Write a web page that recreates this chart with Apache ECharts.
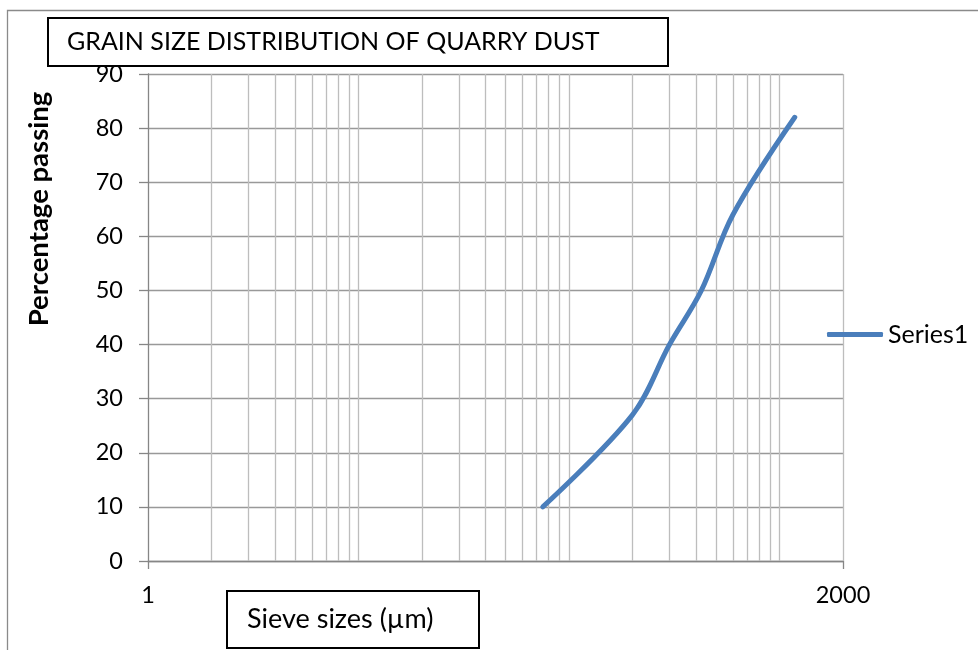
<!DOCTYPE html>
<html>
<head>
<meta charset="utf-8">
<script src="https://cdn.jsdelivr.net/npm/echarts@6/dist/echarts.min.js"></script>
<style>
  html, body { margin: 0; padding: 0; background: #fff; }
  #chart { width: 978px; height: 650px; }
</style>
</head>
<body>
<div id="chart"></div>
<script>
// sieve data
var sieveSizes = [75, 200, 300, 425, 600, 1180];
var passing = [10, 27, 40, 50, 64, 82];
// log gridlines (2..9 of every decade) and the two labelled ticks
var gridSizes = [2, 3, 4, 5, 6, 7, 8, 9, 10, 20, 30, 40, 50, 60, 70, 80, 90,
  100, 200, 300, 400, 500, 600, 700, 800, 900, 1000, 2000];
var xTickLabels = [1, 2000];

var FONT = 'Lato, "Open Sans", sans-serif';
var chart = echarts.init(document.getElementById('chart'), null, { renderer: 'canvas' });

var option = {
  animation: false,
  backgroundColor: '#ffffff',
  grid: { left: 148, top: 74, width: 695, height: 487 },
  legend: {
    data: [{ name: 'Series1', icon: 'roundRect' }],
    left: 822,
    top: 317,
    itemWidth: 56,
    itemHeight: 5,
    textStyle: { fontFamily: FONT, fontSize: 25, color: '#000', lineHeight: 24 }
  },
  xAxis: {
    type: 'log',
    logBase: 10,
    min: 1,
    max: 2000,
    axisLine: { show: true, lineStyle: { color: '#868686', width: 1.3 } },
    axisTick: { show: true, length: 8, customValues: xTickLabels, lineStyle: { color: '#868686', width: 1.3 } },
    axisLabel: {
      customValues: xTickLabels,
      fontFamily: FONT, fontSize: 23.5, color: '#000', margin: 22,
      formatter: function (v) { return String(Math.round(v)); }
    },
    splitLine: { show: false }
  },
  yAxis: {
    type: 'value',
    min: 0,
    max: 90,
    interval: 10,
    axisLine: { show: true, lineStyle: { color: '#868686', width: 1.3 } },
    axisTick: { show: true, length: 9, lineStyle: { color: '#868686', width: 1.3 } },
    axisLabel: { fontFamily: FONT, fontSize: 23.5, color: '#000', margin: 25 },
    splitLine: { show: true, lineStyle: { color: '#999999', width: 1.3 } }
  },
  series: [
    {
      // carries only the vertical log gridlines
      name: 'grid',
      type: 'line',
      data: [],
      silent: true,
      markLine: {
        z: 1,
        silent: true,
        symbol: ['none', 'none'],
        label: { show: false },
        lineStyle: { color: '#bdbdbd', width: 1.3, type: 'solid' },
        emphasis: { disabled: true },
        data: gridSizes.map(function (v) { return { xAxis: v }; })
      }
    },
    {
      name: 'Series1',
      type: 'line',
      z: 3,
      smooth: 0.35,
      symbol: 'none',
      lineStyle: { color: '#4a7ebb', width: 5, cap: 'round', join: 'round' },
      itemStyle: { color: '#4a7ebb' },
      data: sieveSizes.map(function (s, i) { return [s, passing[i]]; })
    }
  ],
  graphic: [
    // outer chart border
    { type: 'rect', left: 5, top: 8, shape: { width: 1000, height: 700 },
      style: { fill: 'none', stroke: '#8a8a8a', lineWidth: 1.3 }, silent: true },
    // title box
    { type: 'rect', left: 47, top: 17, shape: { width: 620, height: 48 },
      style: { fill: '#fff', stroke: '#000', lineWidth: 2 }, z: 10 },
    { type: 'text', left: 67, top: 29, z: 11,
      style: { text: 'GRAIN SIZE DISTRIBUTION OF QUARRY DUST', font: '25px ' + FONT, fill: '#000' } },
    // y axis title
    { type: 'text', x: 39, y: 209, rotation: Math.PI / 2, z: 11,
      style: { text: 'Percentage passing', font: 'bold 27.5px ' + FONT, fill: '#000',
        align: 'center', verticalAlign: 'middle' } },
    // x axis title box
    { type: 'rect', left: 226, top: 590, shape: { width: 252, height: 57 },
      style: { fill: '#fff', stroke: '#000', lineWidth: 2 }, z: 10 },
    { type: 'text', left: 247, top: 606, z: 11,
      style: { text: 'Sieve sizes (µm)', font: '27px ' + FONT, fill: '#000' } }
  ]
};

chart.setOption(option);
</script>
</body>
</html>
